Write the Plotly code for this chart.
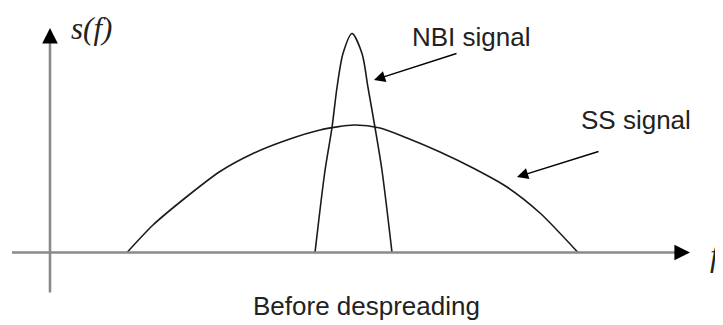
import plotly.graph_objects as go

# Spread-spectrum (SS) signal spectrum
ss_f = [0.77, 1.03, 1.37, 1.70, 2.03, 2.37, 2.70, 3.04, 3.30, 3.57, 3.90, 4.23, 4.57, 4.90, 5.28]
ss_s = [0.00, 0.275, 0.56, 0.81, 0.99, 1.125, 1.225, 1.275, 1.245, 1.145, 1.005, 0.845, 0.655, 0.395, 0.00]

# Narrow-band interference (NBI) spectrum
nbi_f = [2.65, 2.75, 2.82, 2.87, 2.93, 3.02, 3.12, 3.18, 3.25, 3.32, 3.42]
nbi_s = [0.00, 0.82, 1.25, 1.65, 1.99, 2.19, 1.99, 1.65, 1.25, 0.82, 0.00]

axis_color = "#8a8a8a"
curve_color = "#1a1a1a"
text_color = "#222222"
sans = "Liberation Sans, Arial, sans-serif"
serif = "Liberation Serif, Times New Roman, serif"

fig = go.Figure()
fig.add_trace(go.Scatter(x=ss_f, y=ss_s, mode="lines",
                         line=dict(color=curve_color, width=1.6, shape="spline", smoothing=0.7),
                         hoverinfo="skip", showlegend=False))
fig.add_trace(go.Scatter(x=nbi_f, y=nbi_s, mode="lines",
                         line=dict(color=curve_color, width=1.6, shape="spline", smoothing=0.8),
                         hoverinfo="skip", showlegend=False))

# axes lines
fig.add_shape(type="line", x0=-0.38, y0=0, x1=6.32, y1=0, xref="x", yref="y",
              line=dict(color=axis_color, width=2.6))
fig.add_shape(type="line", x0=0, y0=-0.40, x1=0, y1=2.17, xref="x", yref="y",
              line=dict(color=axis_color, width=2.6))

annotations = [
    # axis arrowheads
    dict(x=6.40, y=0, ax=6.30, ay=0, xref="x", yref="y", axref="x", ayref="y",
         text="", showarrow=True, arrowhead=2, arrowsize=1.3, arrowwidth=2.4, arrowcolor="black"),
    dict(x=0, y=2.245, ax=0, ay=2.15, xref="x", yref="y", axref="x", ayref="y",
         text="", showarrow=True, arrowhead=2, arrowsize=1.3, arrowwidth=2.4, arrowcolor="black"),
    # label pointers
    dict(x=3.24, y=1.725, ax=4.08, ay=1.995, xref="x", yref="y", axref="x", ayref="y",
         text="", showarrow=True, arrowhead=2, arrowsize=1.6, arrowwidth=1.4, arrowcolor="black"),
    dict(x=4.67, y=0.755, ax=5.50, ay=1.015, xref="x", yref="y", axref="x", ayref="y",
         text="", showarrow=True, arrowhead=2, arrowsize=1.6, arrowwidth=1.4, arrowcolor="black"),
    # texts
    dict(x=4.21, y=2.155, xref="x", yref="y", text="NBI signal", showarrow=False,
         font=dict(family=sans, size=26, color=text_color)),
    dict(x=5.86, y=1.325, xref="x", yref="y", text="SS signal", showarrow=False,
         font=dict(family=sans, size=26, color=text_color)),
    dict(x=3.16, y=-0.535, xref="x", yref="y", text="Before despreading", showarrow=False,
         font=dict(family=sans, size=26, color=text_color)),
    dict(x=0.41, y=2.245, xref="x", yref="y", text="<i>s(f)</i>", showarrow=False,
         font=dict(family=serif, size=31, color=text_color)),
    dict(x=6.66, y=-0.03, xref="x", yref="y", text="<i>f</i>", showarrow=False,
         font=dict(family=serif, size=31, color=text_color)),
]

fig.update_layout(
    width=715, height=317,
    margin=dict(l=0, r=0, t=0, b=0),
    paper_bgcolor="white", plot_bgcolor="white",
    xaxis=dict(range=[-0.42, 6.73], visible=False, fixedrange=True),
    yaxis=dict(range=[-0.725, 2.445], visible=False, fixedrange=True),
    annotations=annotations,
    showlegend=False,
)

fig.write_html("out.html")
